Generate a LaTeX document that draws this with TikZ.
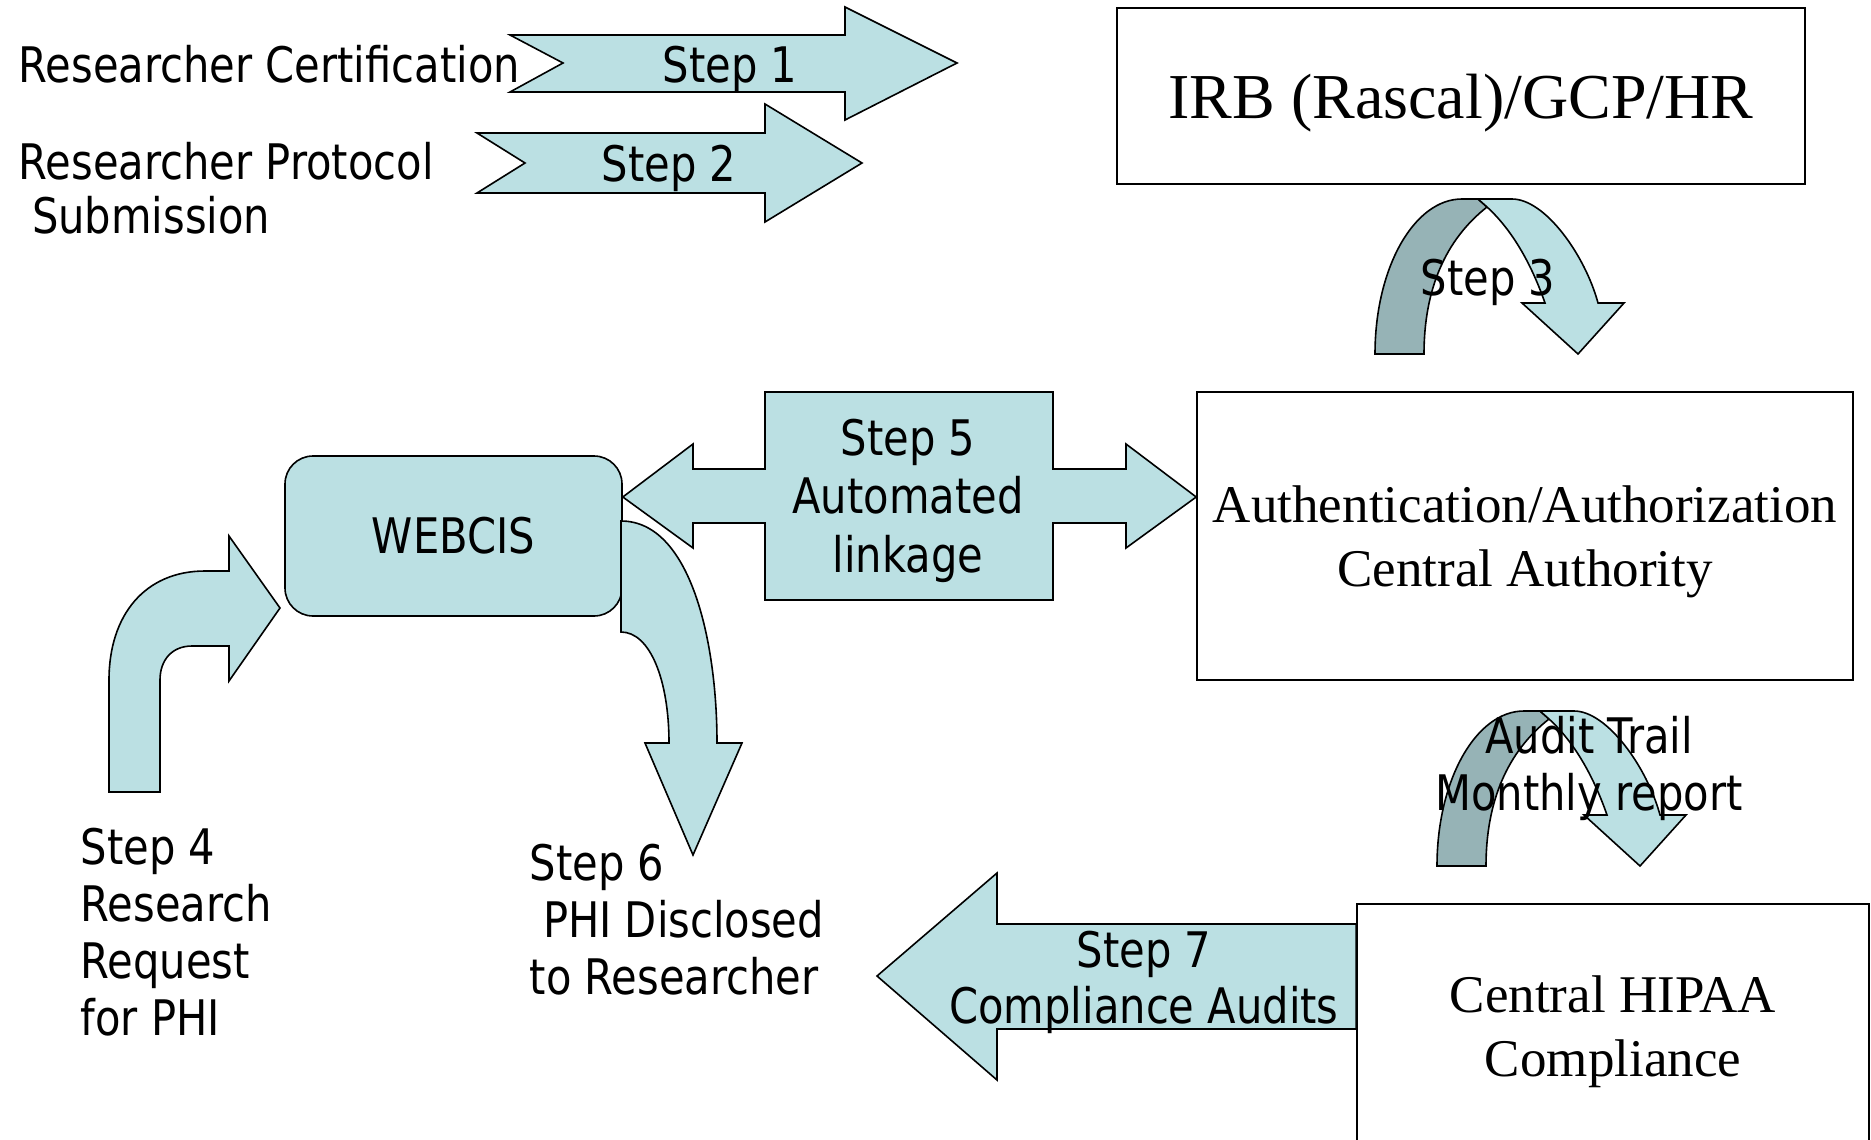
\documentclass[tikz,border=0pt]{standalone}
\usepackage{fontspec}
\newfontfamily\slidesans{DejaVu Sans}[FakeStretch=0.85]
\newfontfamily\slideserif{Liberation Serif}
\definecolor{arrowfill}{RGB}{187,224,227}
\definecolor{arrowback}{RGB}{150,179,182}

\begin{document}
\begin{tikzpicture}[x=1pt, y=-1pt, line width=1.6pt,
    block/.style={draw, fill=arrowfill},
    back/.style={draw, fill=arrowback},
    txt/.style={font=\fontsize{49}{57}\slidesans, inner sep=0pt},
    system/.style={draw, fill=white, font=\fontsize{53}{64}\slideserif, align=center}]
    \useasboundingbox (0,0) rectangle (1871,1140);
    \clip (0,0) rectangle (1871,1140);

    % systems
    \node[system, minimum width=688pt, minimum height=176pt, text depth=0pt,
          font=\fontsize{64}{76}\slideserif] (irb) at (1461,96) {IRB (Rascal)/GCP/HR};
    \node[system, minimum width=656pt, minimum height=288pt, text depth=0pt] (auth) at (1525,536)
          {Authentication/Authorization\\Central Authority};
    \node[system, minimum width=512pt, minimum height=256pt] (hipaa) at (1613,1032)
          {Central HIPAA\\Compliance};
    \node[block, txt, rounded corners=28pt, minimum width=337pt, minimum height=160pt]
          (webcis) at (453.5,536) {WEBCIS};

    % step 1 and step 2
    \draw[block] (510,35) -- (845,35) -- (845,7) -- (957,63) -- (845,120) -- (845,92)
        -- (510,92) -- (563,63) -- cycle;
    \draw[block] (477,133) -- (765,133) -- (765,104) -- (862,163) -- (765,222) -- (765,193)
        -- (477,193) -- (525,163) -- cycle;

    % step 3 and audit trail
    \foreach \dx/\dy in {0/0, 62/512} {
        \begin{scope}[shift={(\dx,\dy)}]
            \draw[back] (1375,354) .. controls (1375,268) and (1414,199) .. (1462,199)
                -- (1478,199) -- (1487,207) .. controls (1445,240) and (1424,290) .. (1424,354) -- cycle;
            \draw[block] (1478,199) -- (1512,199) .. controls (1545,199) and (1585,255) .. (1598,303)
                -- (1624,303) -- (1578,354) -- (1522,303) -- (1545,303)
                .. controls (1530,260) and (1510,228) .. (1487,207) -- cycle;
        \end{scope}
    }

    % step 4
    \draw[block] (109,792) -- (109,680) .. controls (109,615) and (145,571) .. (205,571)
        -- (229,571) -- (229,536) -- (280,608) -- (229,681) -- (229,646) -- (192,646)
        .. controls (172,646) and (160,660) .. (160,680) -- (160,792) -- cycle;

    % step 5
    \draw[block] (webcis.east |- 0,497) -- (693,444) -- (693,469) -- (765,469) -- (765,392)
        -- (1053,392) -- (1053,469) -- (1126,469) -- (1126,444) -- (auth.west |- 0,497)
        -- (1126,548) -- (1126,523) -- (1053,523) -- (1053,600) -- (765,600) -- (765,523)
        -- (693,523) -- (693,548) -- cycle;

    % step 6
    \draw[block] (621,521) .. controls (690,521) and (717,640) .. (717,743) -- (742,743)
        -- (693,855) -- (645,743) -- (669,743) .. controls (669,680) and (650,632) .. (621,632) -- cycle;

    % step 7
    \draw[block] (877,976) -- (997,873) -- (997,924) -- (hipaa.west |- 0,924)
        -- (hipaa.west |- 0,1029) -- (997,1029) -- (997,1080) -- cycle;

    % labels (multi-line ones sit on the baseline of their last line)
    \node[txt, anchor=base west] (cert) at (18,82) {Researcher Certification};
    \node[txt, anchor=base west, align=left, font=\fontsize{49}{54}\slidesans] (proto) at (18,233)
        {Researcher Protocol\\\ Submission};
    \node[txt, anchor=base] (step1) at (730,82) {Step 1};
    \node[txt, anchor=base] (step2) at (669,181) {Step 2};
    \node[txt, anchor=base] (step3) at (1488,295) {Step 3};
    \node[txt, anchor=base west, align=left] (step4) at (80,1035) {Step 4\\Research\\Request\\for PHI};
    \node[txt, anchor=base, align=center, font=\fontsize{49}{58.5}\slidesans] (step5) at (908,572)
        {Step 5\\Automated\\linkage};
    \node[txt, anchor=base west, align=left] (step6) at (529,994) {Step 6\\\ PHI Disclosed\\to Researcher};
    \node[txt, anchor=base, align=center] (audit) at (1589,810) {Audit Trail\\Monthly report};
    \node[txt, anchor=base, align=center, font=\fontsize{49}{56}\slidesans] (step7) at (1144,1023)
        {Step 7\\Compliance Audits};
\end{tikzpicture}
\end{document}
